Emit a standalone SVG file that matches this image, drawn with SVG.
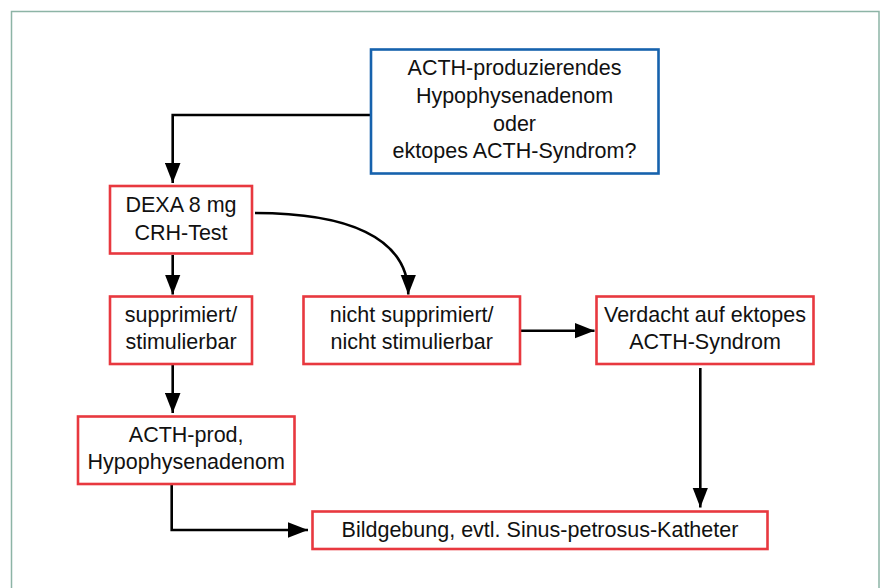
<svg xmlns="http://www.w3.org/2000/svg" width="886" height="588" viewBox="0 0 886 588">
  <style>
    .frame { fill: none; stroke: #8db4a6; stroke-width: 1.5; }
    .blue { fill: #ffffff; stroke: #1662ad; stroke-width: 2.6; }
    .red { fill: #ffffff; stroke: #e8383f; stroke-width: 2.6; }
    .txt { font-family: "Liberation Sans", Arial, sans-serif; font-size: 21.5px; fill: #111111; text-anchor: middle; }
    .conn { fill: none; stroke: #000000; stroke-width: 2.6; }
  </style>
  <defs>
    <marker id="arrow" markerUnits="userSpaceOnUse" markerWidth="20" markerHeight="16" viewBox="0 0 18 14" refX="18" refY="7" orient="auto">
      <polygon points="0,0 18,7 0,14" fill="#000000"/>
    </marker>
  </defs>
  <rect width="886" height="588" fill="#ffffff"/>
  <rect class="frame" x="11.5" y="11.5" width="867.5" height="600"/>

  <g id="connectors">
    <path class="conn" d="M370,115 H172.7 V183" marker-end="url(#arrow)"/>
    <path class="conn" d="M172.7,255 V294.5" marker-end="url(#arrow)"/>
    <path class="conn" d="M255,213 C345,213 408.3,236 408.3,294.5" marker-end="url(#arrow)"/>
    <path class="conn" d="M521,330.7 H594.5" marker-end="url(#arrow)"/>
    <path class="conn" d="M172.7,365 V413" marker-end="url(#arrow)"/>
    <path class="conn" d="M700.3,368 V507.5" marker-end="url(#arrow)"/>
    <path class="conn" d="M171.7,485 V530 H308" marker-end="url(#arrow)"/>
  </g>

  <g id="n-start">
    <rect class="blue" x="371" y="49.5" width="287.5" height="124"/>
    <text class="txt" x="514.5" y="75">ACTH-produzierendes</text>
    <text class="txt" x="514.5" y="102.7">Hypophysenadenom</text>
    <text class="txt" x="514.5" y="130.5">oder</text>
    <text class="txt" x="514.5" y="158">ektopes ACTH-Syndrom?</text>
  </g>

  <g id="n-dexa">
    <rect class="red" x="110" y="186" width="142" height="67.5"/>
    <text class="txt" x="181" y="212.3">DEXA 8 mg</text>
    <text class="txt" x="181" y="240">CRH-Test</text>
  </g>

  <g id="n-supp">
    <rect class="red" x="110" y="296.5" width="142" height="67.5"/>
    <text class="txt" x="181" y="321.7">supprimiert/</text>
    <text class="txt" x="181" y="349.3">stimulierbar</text>
  </g>

  <g id="n-nicht">
    <rect class="red" x="303.5" y="296.5" width="216.5" height="67.5"/>
    <text class="txt" x="411.7" y="321.7">nicht supprimiert/</text>
    <text class="txt" x="411.7" y="349.3">nicht stimulierbar</text>
  </g>

  <g id="n-verdacht">
    <rect class="red" x="596.5" y="296.5" width="217" height="67.5"/>
    <text class="txt" x="705" y="321.7">Verdacht auf ektopes</text>
    <text class="txt" x="705" y="349.3">ACTH-Syndrom</text>
  </g>

  <g id="n-acthprod">
    <rect class="red" x="78" y="416.5" width="216.5" height="67.5"/>
    <text class="txt" x="186.2" y="441.7">ACTH-prod,</text>
    <text class="txt" x="186.2" y="469.3">Hypophysenadenom</text>
  </g>

  <g id="n-bild">
    <rect class="red" x="312.5" y="511.5" width="455" height="37.5"/>
    <text class="txt" x="540" y="536.5">Bildgebung, evtl. Sinus-petrosus-Katheter</text>
  </g>
</svg>
